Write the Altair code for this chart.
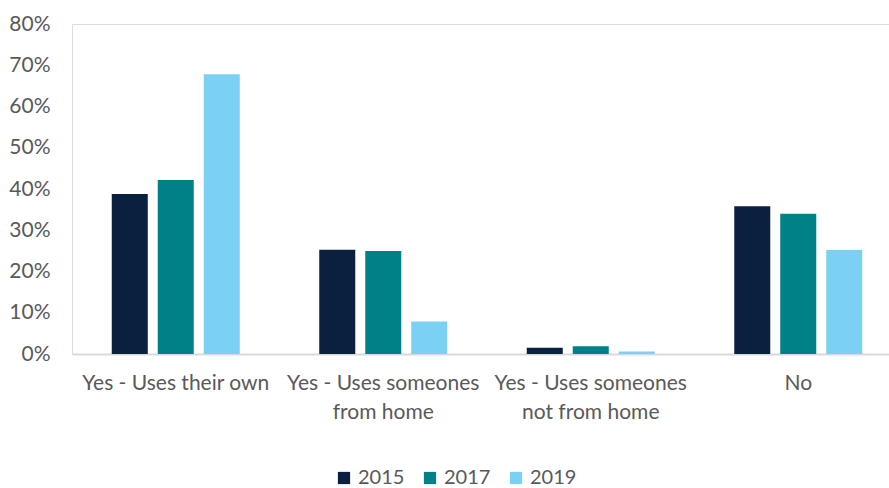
import altair as alt
import pandas as pd

categories = ["Yes - Uses their own", "Yes - Uses someones|from home",
              "Yes - Uses someones|not from home", "No"]
years = ["2015", "2017", "2019"]
v2015 = [0.388, 0.253, 0.015, 0.358]
v2017 = [0.422, 0.250, 0.019, 0.340]
v2019 = [0.678, 0.079, 0.006, 0.252]
colors = ["#0b1f3f", "#008087", "#7ad1f3"]

rows = []
for yr, vals in zip(years, [v2015, v2017, v2019]):
    for c, v in zip(categories, vals):
        rows.append({"cat": c, "year": yr, "value": v})
df = pd.DataFrame(rows)

FONT = "Lato"
GRAY = "#595959"

chart = alt.Chart(df).mark_bar().encode(
    x=alt.X("cat:N", sort=categories, title=None,
            scale=alt.Scale(paddingInner=0.335, paddingOuter=0.1675, range=[0, 830]),
            axis=alt.Axis(labelAngle=0, labelExpr="split(datum.label, '|')",
                          labelFont=FONT, labelFontSize=21, labelColor=GRAY,
                          labelLineHeight=29, labelPadding=18, ticks=False,
                          domainColor="#d9d9d9", domainWidth=2, labelLimit=400)),
    xOffset=alt.XOffset("year:N", sort=years,
                        scale=alt.Scale(paddingInner=0.217, paddingOuter=0.1087)),
    y=alt.Y("value:Q", title=None,
            scale=alt.Scale(domain=[0, 0.8]),
            axis=alt.Axis(format=".0%", values=[0, 0.1, 0.2, 0.3, 0.4, 0.5, 0.6, 0.7, 0.8],
                          grid=False, domain=False, ticks=False,
                          labelFont=FONT, labelFontSize=21, labelColor=GRAY,
                          labelPadding=22)),
    color=alt.Color("year:N", sort=years, title=None,
                    scale=alt.Scale(domain=years, range=colors),
                    legend=alt.Legend(orient="none", legendX=262, legendY=444,
                                      direction="horizontal", symbolType="square",
                                      symbolSize=150, symbolStrokeWidth=0,
                                      labelFont=FONT, labelFontSize=20, labelColor=GRAY,
                                      labelLimit=200,
                                      columnPadding=15, labelOffset=4)),
).properties(
    width=817, height=330,
    autosize=alt.AutoSizeParams(type="none"),
    padding={"left": 72, "top": 24, "right": 0, "bottom": 134},
).configure_view(stroke=None).configure(background="white")

chart.save("out.html", embed_options={"renderer": "svg", "actions": False})
